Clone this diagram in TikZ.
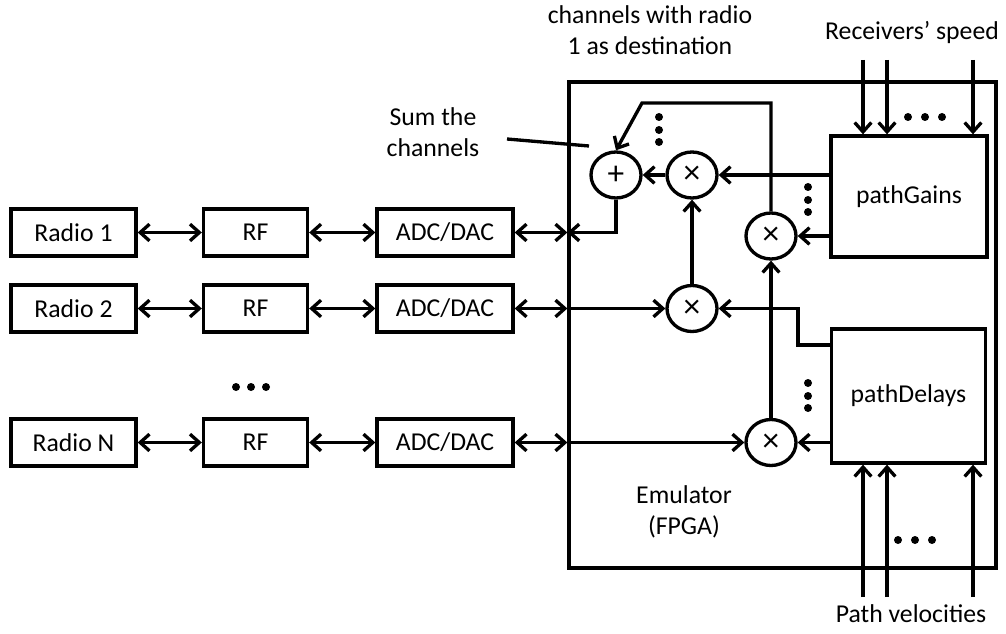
\documentclass[tikz,border=0pt]{standalone}
\usepackage{fontspec}
\setmainfont{Carlito}
\usetikzlibrary{arrows.meta,shapes.geometric}

\begin{document}
\begin{tikzpicture}[x=0.75pt, y=-0.75pt,
    every node/.style={font=\fontsize{19.3}{23}\selectfont},
    blk/.style={draw, line width=2.5pt, rectangle, minimum height=35.25pt, inner sep=0pt},
    op/.style={draw, line width=2.5pt, ellipse, minimum width=37.5pt, minimum height=34.5pt, inner sep=0pt, font=\fontsize{25}{25}\selectfont},
    wire/.style={line width=2.5pt},
    arr/.style={wire, -{Straight Barb[length=7pt,width=12.5pt]}},
    darr/.style={wire, {Straight Barb[length=7pt,width=12.5pt]}-{Straight Barb[length=7pt,width=12.5pt]}}]
                \useasboundingbox (0,0) rectangle (1006,634);
                % Emulator frame
                \node [draw, line width=2.5pt, minimum width=320.25pt, minimum height=364.5pt] (emu) at (782.5,325) {};
                \node [align=center] (emulbl) at (684,512) {Emulator\\(FPGA)};
                \node [blk, minimum width=117pt, minimum height=90.75pt] (gains) at (909,196.5) {pathGains};
                \node [blk, minimum width=115.5pt, minimum height=100.5pt] (delays) at (908.5,396) {pathDelays};
                % Radio chains
                \node [blk, minimum width=93.75pt] (r1) at (73.5,232.5) {Radio 1};
                \node [blk, minimum width=78pt] (rf1) at (255.5,232.5) {RF};
                \node [blk, minimum width=102pt] (adc1) at (445,232.5) {ADC/DAC};
                \node [blk, minimum width=93.75pt] (r2) at (73.5,308.5) {Radio 2};
                \node [blk, minimum width=78pt] (rf2) at (255.5,308.5) {RF};
                \node [blk, minimum width=102pt] (adc2) at (445,308.5) {ADC/DAC};
                \node [blk, minimum width=93.75pt] (rN) at (73.5,442.5) {Radio N};
                \node [blk, minimum width=78pt] (rfN) at (255.5,442.5) {RF};
                \node [blk, minimum width=102pt] (adcN) at (445,442.5) {ADC/DAC};
                \draw [darr] (r1) -- (rf1);
                \draw [darr] (rf1) -- (adc1);
                \draw [darr] (adc1) -- (adc1 -| emu.west);
                \draw [darr] (r2) -- (rf2);
                \draw [darr] (rf2) -- (adc2);
                \draw [darr] (adc2) -- (adc2 -| emu.west);
                \draw [darr] (rN) -- (rfN);
                \draw [darr] (rfN) -- (adcN);
                \draw [darr] (adcN) -- (adcN -| emu.west);
                % Operators
                \node [op] (plus) at (616,175) {+};
                \node [op] (m1) at (692,175) {×};
                \node [op] (mg) at (771,236) {×};
                \node [op] (m2) at (692,308.5) {×};
                \node [op] (mN) at (771,442.5) {×};
                \coordinate (fb) at (642,103);
                \coordinate (db) at (798,345);
                \draw [arr] (plus.south) |- (adc1 -| emu.west);
                \draw [arr] (m1) -- (plus);
                \draw [arr] (m2) -- (m1);
                \draw [arr] (mN) -- (mg);
                \draw [arr] (mg.north) |- (fb) -- (plus.north);
                \draw [arr] (gains.west |- m1) -- (m1);
                \draw [arr] (gains.west |- mg) -- (mg);
                \draw [arr] (delays.west |- db) -- (db) |- (m2);
                \draw [arr] (delays.west |- mN) -- (mN);
                \draw [arr] (adc2 -| emu.west) -- (m2);
                \draw [arr] (adcN -| emu.west) -- (mN);
                % Inputs
                \foreach \x [count=\i] in {863,887,973} {
                    \coordinate (rs\i) at (\x,60);
                    \draw [arr] (rs\i) -- (rs\i |- gains.north);
                    \coordinate (pv\i) at (\x,597);
                    \draw [arr] (pv\i) -- (pv\i |- delays.south);
                }
                % Dots
                \foreach \x in {908,925,942} \fill (\x,117) circle (3pt);
                \foreach \x in {898,915,932} \fill (\x,540) circle (3pt);
                \foreach \x in {236,251,266} \fill (\x,387) circle (3pt);
                \foreach \y in {117,130,142} \fill (659,\y) circle (3pt);
                \foreach \y in {187,200,212} \fill (808,\y) circle (3pt);
                \foreach \y in {383,396,408} \fill (808,\y) circle (3pt);
                % Labels
                \node [align=center] (dest) at (650,30) {channels with radio\\1 as destination};
                \node (rspeed) at (912,33) {Receivers’ speed};
                \node (pvel) at (911,614) {Path velocities};
                \node [align=center] (sumlbl) at (433,132) {Sum the\\channels};
                \coordinate (sumfrom) at (507,139);
                \coordinate (sumto) at (589,146);
                \draw [wire] (sumfrom) -- (sumto);
\end{tikzpicture}
\end{document}
